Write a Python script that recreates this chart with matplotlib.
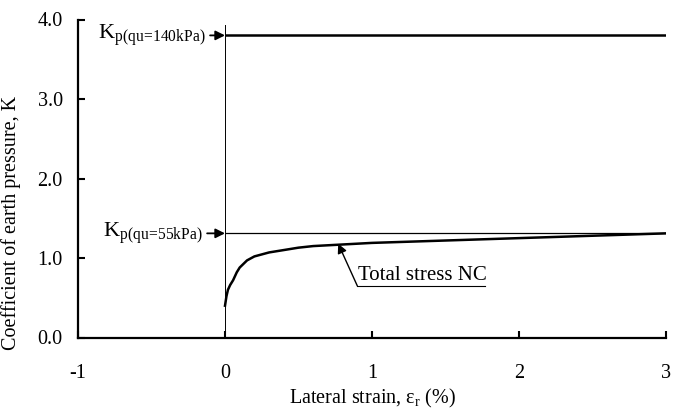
import matplotlib
matplotlib.use('Agg')
import matplotlib.pyplot as plt

plt.rcParams['font.family'] = ['Liberation Serif', 'DejaVu Serif']
plt.rcParams['mathtext.fontset'] = 'custom'
plt.rcParams['mathtext.rm'] = 'Liberation Serif'
plt.rcParams['mathtext.it'] = 'Liberation Serif'

# Total stress NC curve
strain = [0.0, 0.01, 0.02, 0.035, 0.055, 0.08, 0.1, 0.15, 0.2, 0.3, 0.4, 0.5, 0.6, 0.8, 1.0, 1.5, 2.0, 2.5, 3.0]
k_total = [0.40, 0.52, 0.60, 0.66, 0.72, 0.82, 0.88, 0.97, 1.02, 1.07, 1.10, 1.13, 1.15, 1.17, 1.19, 1.22, 1.25, 1.28, 1.31]

kp_140 = 3.80
kp_55 = 1.31
xticks = [-1, 0, 1, 2, 3]
yticks = [0.0, 1.0, 2.0, 3.0, 4.0]

fig = plt.figure(figsize=(6.77, 4.12), dpi=100)
ax = fig.add_axes([78/677, 1-337.5/412, (666-78)/677, (337.5-19.5)/412])

ax.plot([0, 3], [kp_140, kp_140], color='black', lw=1.8, solid_capstyle='butt')
ax.plot([0, 3], [kp_55, kp_55], color='black', lw=0.9, solid_capstyle='butt')
ax.plot([0, 0], [0, 3.93], color='black', lw=0.7)
ax.plot(strain, k_total, color='black', lw=1.8)

ax.set_xlim(-1, 3)
ax.set_ylim(0, 4)
ax.set_xticks(xticks)
ax.set_xticklabels(['-1', '0', '1', '2', '3'])
ax.set_yticks(yticks)
ax.set_yticklabels(['%.1f' % v for v in yticks])
ax.tick_params(direction='in', length=5, width=1.5, labelsize=14.5)
ax.tick_params(axis='x', pad=19)
ax.tick_params(axis='y', pad=11)
for s in ['top', 'right']:
    ax.spines[s].set_visible(False)
for s in ['left', 'bottom']:
    ax.spines[s].set_linewidth(1.6)

ax.set_xlabel(r'Lateral strain, $\mathregular{\varepsilon_r}$ (%)', fontsize=14.5, labelpad=3)
ax.set_ylabel('Coefficient of earth pressure, K', fontsize=14.5)
ax.yaxis.set_label_coords(-0.097, 0.36)

# Kp labels with arrows
ax.annotate(r'$\mathregular{K_{p(qu\!=\!140kPa)}}$', xy=(0, kp_140), xytext=(-0.13, kp_140),
            fontsize=16, ha='right', va='center',
            arrowprops=dict(arrowstyle='-|>', color='black', lw=1.3, mutation_scale=14, shrinkA=1, shrinkB=0))
ax.annotate(r'$\mathregular{K_{p(qu\!=\!55kPa)}}$', xy=(0, kp_55), xytext=(-0.15, kp_55),
            fontsize=16, ha='right', va='center',
            arrowprops=dict(arrowstyle='-|>', color='black', lw=1.3, mutation_scale=14, shrinkA=1, shrinkB=0))

# Total stress NC label
ax.annotate('', xy=(0.77, 1.18), xytext=(0.90, 0.65),
            arrowprops=dict(arrowstyle='-|>', color='black', lw=1.0, mutation_scale=14, shrinkA=0, shrinkB=0))
ax.text(0.905, 0.66, 'Total stress NC', fontsize=15, ha='left', va='bottom')
ax.plot([0.90, 1.77], [0.65, 0.65], color='black', lw=0.8)

plt.savefig('out.png', dpi=100)
